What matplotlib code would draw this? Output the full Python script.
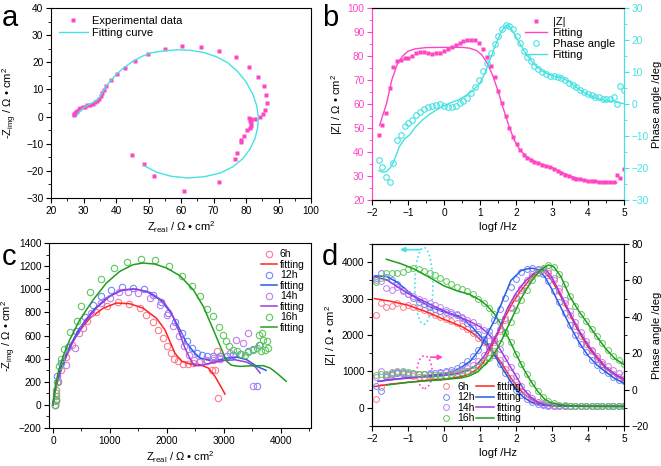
import numpy as np
import matplotlib.pyplot as plt
from matplotlib.patches import Ellipse
from matplotlib.lines import Line2D
from matplotlib.ticker import MultipleLocator

plt.rcParams['font.family'] = ['Liberation Sans', 'DejaVu Sans']
plt.rcParams['mathtext.fontset'] = 'custom'
plt.rcParams['mathtext.rm'] = 'Liberation Sans'
plt.rcParams['mathtext.it'] = 'Liberation Sans:italic'
plt.rcParams['xtick.direction'] = 'out'
plt.rcParams['ytick.direction'] = 'out'
plt.rcParams['axes.linewidth'] = 0.8

PINK = '#ff44c4'
CYAN = '#44e2e2'

# ---------------- panel a : Nyquist ----------------
a_zr = [27.0, 27.2, 27.4, 27.7, 28.0, 28.5, 29.0, 29.7, 30.4, 31.2, 32.0, 32.8, 33.5, 34.2,
        34.8, 35.3, 35.6, 36.2, 37.0, 38.5, 40.3, 42.7, 45.8, 49.8, 55.0, 60.3, 66.2, 71.8,
        76.8, 81.0, 83.6, 85.5, 86.2, 86.4, 85.9, 85.3, 84.2, 82.7, 81.6, 81.0, 81.3, 81.6,
        81.5, 81.3, 80.2, 79.5, 78.6, 78.5, 77.3, 76.5, 71.6, 60.8, 51.7, 48.5, 45.0]
a_zi = [0.5, 1.0, 1.5, 1.8, 2.2, 2.7, 3.1, 3.4, 3.7, 4.1, 4.4, 4.8, 5.2, 5.9,
        6.6, 7.5, 8.6, 9.8, 11.2, 13.3, 15.6, 18.0, 20.5, 23.0, 24.9, 25.9, 25.7, 24.2,
        21.8, 18.3, 14.7, 11.1, 7.8, 4.9, 2.5, 1.0, -0.2, -0.8, -0.8, -0.7, -1.5, -2.5,
        -3.5, -4.2, -5.1, -7.0, -8.6, -9.5, -13.4, -15.7, -24.2, -27.5, -21.8, -17.5, -14.3]
a_fit_zr = [28.0, 29, 30, 31, 32, 33, 34, 35, 36, 37, 38, 40, 42, 45, 48, 51, 55, 59, 63, 67,
            71, 74.5, 77.5, 80, 82, 83.3, 83.8, 83.6, 82.8, 81.2, 79, 76, 72, 67, 62, 57, 52.5, 48.5]
a_fit_zi = [0.5, 2.2, 3.2, 4.0, 4.6, 5.2, 6.0, 7.2, 9.3, 11.2, 12.8, 15.4, 17.6, 20.2, 22.2, 23.5,
            24.3, 24.6, 24.4, 23.6, 22.0, 19.7, 16.5, 12.8, 8.5, 4.0, 0.0, -4, -8, -12, -15.5,
            -18.5, -20.8, -22.2, -22.6, -22.0, -20.5, -18.0]

# ---------------- panel b : Bode ----------------
b_logf = [-1.81, -1.71, -1.60, -1.51, -1.42, -1.31, -1.20, -1.09, -0.99, -0.88, -0.77, -0.66,
          -0.56, -0.44, -0.33, -0.23, -0.12, -0.01, 0.10, 0.21, 0.32, 0.44, 0.53, 0.64, 0.75,
          0.86, 0.97, 1.08, 1.19, 1.31, 1.41, 1.51, 1.62, 1.71, 1.81, 1.92, 2.02, 2.11, 2.21,
          2.31, 2.43, 2.51, 2.62, 2.73, 2.84, 2.94, 3.05, 3.16, 3.26, 3.36, 3.47, 3.57, 3.68,
          3.79, 3.89, 4.00, 4.10, 4.20, 4.31, 4.42, 4.51, 4.60, 4.71, 4.81, 4.90, 5.00]
b_modz = [47.2, 51.4, 56.3, 66.5, 75.6, 78.1, 78.4, 79.1, 79.1, 80.1, 81.2, 81.5,
          81.5, 81.2, 80.8, 81.2, 81.2, 81.9, 82.9, 83.6, 84.4, 85.3, 86.1, 86.5, 86.6,
          86.5, 85.3, 83.0, 79.7, 75.7, 71.1, 65.6, 60.3, 55.1, 50.2, 46.4, 43.2, 40.7, 38.8,
          37.7, 36.7, 36.0, 35.3, 34.7, 34.3, 33.6, 32.9, 32.1, 31.3, 30.6, 30.0, 29.3, 28.6,
          28.6, 28.3, 27.9, 27.8, 27.9, 27.7, 27.5, 27.3, 27.5, 27.3, 30.5, 29.2, 33.0]
b_phase = [-17.5, -19.6, -22.7, -24.3, -18.5, -11.4, -9.7, -6.8, -6.0, -5.0, -3.4, -2.4,
           -1.5, -0.8, -0.5, -0.2, 0.0, -0.5, -0.8, -0.8, -0.5, 0.3, 1.0, 2.0, 3.4,
           5.2, 7.6, 10.2, 12.8, 15.9, 18.7, 21.3, 23.4, 24.6, 24.3, 23.4, 21.3, 19.0, 16.6,
           14.7, 13.3, 12.0, 10.9, 10.1, 9.4, 8.8, 8.6, 8.4, 8.0, 7.6, 6.7, 6.0, 5.3,
           4.4, 3.9, 3.2, 2.7, 2.3, 2.3, 1.6, 1.5, 1.5, 2.1, 0.0, 5.7, 4.4]
b_fit_logf_z = [-1.79, -1.6, -1.45, -1.3, -1.15, -1.0, -0.8, -0.5, 0, 0.5, 0.7, 0.9, 1.05, 1.2,
                1.35, 1.5, 1.65, 1.8, 1.95, 2.1, 2.3, 2.5, 2.8, 3.0, 3.3, 3.6, 3.9, 4.2, 4.5, 4.8]
b_fit_z = [51.1, 60, 70, 76.5, 80, 82, 83, 83.5, 83.6, 83.6, 83.3, 82.3, 80.5, 77,
           72, 65.5, 58, 51, 45, 41, 38, 36.2, 34.5, 33.5, 31.3, 29.5, 28.3, 27.6, 27.3, 27.2]
b_fit_logf_p = [-1.81, -1.7, -1.6, -1.5, -1.42, -1.33, -1.24, -1.1, -0.96, -0.8, -0.6, -0.4,
                -0.14, 0.14, 0.4, 0.6, 0.8, 1.0, 1.15, 1.3, 1.45, 1.6, 1.72, 1.82, 1.95, 2.1,
                2.3, 2.5, 2.7, 2.9, 3.1, 3.3, 3.5, 3.77, 4.0, 4.23, 4.5, 4.7, 5.0]
b_fit_p = [-20.8, -21.3, -21.1, -20, -18.5, -16, -13.3, -11, -9.7, -7.3, -5, -3.2,
           -1.4, 0.2, 1.3, 2.6, 4.2, 6.5, 10, 14.5, 19, 22.7, 24.6, 24.2, 22, 19,
           15.3, 12.5, 10.5, 9.3, 8.6, 8.1, 6.8, 4.4, 2.9, 1.8, 1.1, 0.8, 0.1]

# ---------------- panel c : Nyquist vs time ----------------
times = ['6h', '12h', '14h', '16h']
c_circ_col = ['#ff7a8c', '#7088ff', '#c67cf0', '#5cc85c']
c_line_col = ['#ff2424', '#2a5ae6', '#9a3ce0', '#1e9e1e']

c_zr = [
    [40, 45, 60, 88, 147, 235, 340, 457, 598, 762, 950, 1144, 1337, 1525, 1642, 1748, 1848, 1935,
     2006, 2065, 2123, 2200, 2288, 2375, 2463, 2581, 2698, 2815, 2885, 2932, 2845, 2790, 2903],
    [40, 45, 70, 147, 264, 399, 557, 700, 850, 1026, 1220, 1408, 1595, 1760, 1889, 2023, 2141,
     2258, 2346, 2434, 2522, 2610, 2698, 2815, 2932, 3050, 3167, 3284, 3431, 3519, 3625, 3578],
    [40, 50, 88, 235, 381, 528, 674, 850, 997, 1161, 1320, 1496, 1701, 1877, 1994, 2112, 2217,
     2299, 2393, 2475, 2560, 2698, 2815, 2930, 3109, 3214, 3343, 3431, 3519],
    [40, 45, 50, 60, 75, 106, 147, 200, 300, 422, 498, 645, 850, 1067, 1302, 1537, 1795, 2041,
     2258, 2434, 2581, 2710, 2815, 2915, 2980, 3038, 3097, 3167, 3238, 3296, 3372, 3431, 3519,
     3578, 3636, 3625, 3666, 3695, 3754, 3783, 3724, 3648],
]
c_zi = [
    [0, 30, 100, 195, 305, 411, 521, 622, 723, 803, 858, 890, 872, 836, 780, 714, 645, 578,
     506, 449, 397, 377, 357, 357, 362, 377, 377, 391, 463, 405, 300, 300, 58],
    [0, 40, 247, 360, 500, 640, 760, 860, 940, 991, 1020, 1011, 1005, 953, 893, 795, 714,
     622, 555, 492, 449, 434, 426, 420, 420, 426, 431, 440, 463, 483, 521, 164],
    [0, 50, 204, 348, 492, 665, 795, 881, 924, 973, 973, 967, 924, 867, 780, 679, 593,
     512, 434, 391, 370, 391, 405, 400, 449, 564, 535, 622, 160],
    [0, 40, 80, 130, 200, 333, 397, 480, 630, 723, 858, 973, 1092, 1184, 1239, 1262, 1250, 1198,
     1117, 1031, 939, 829, 766, 671, 607, 549, 512, 478, 463, 443, 434, 455, 478,
     492, 521, 607, 622, 559, 550, 492, 478, 463],
]
c_fit_zr = [
    [0, 29, 117, 235, 411, 645, 880, 1114, 1349, 1584, 1818, 1965, 2053, 2141, 2258, 2405,
     2581, 2727, 2844, 2944, 3020],
    [0, 59, 147, 293, 469, 704, 938, 1173, 1408, 1642, 1877, 2053, 2200, 2346, 2463, 2581,
     2815, 3050, 3226, 3402, 3578, 3742],
    [0, 59, 176, 323, 528, 762, 997, 1232, 1466, 1701, 1935, 2082, 2200, 2317, 2405, 2480,
     2600, 2800, 3000, 3200, 3400, 3550, 3636],
    [0, 29, 88, 176, 293, 469, 704, 938, 1173, 1408, 1584, 1789, 1994, 2229, 2463, 2639, 2815,
     2962, 3050, 3138, 3284, 3519, 3695, 3812, 3930, 4094],
]
c_fit_zi = [
    [0, 101, 274, 432, 605, 749, 836, 881, 875, 836, 749, 650, 549, 447, 377, 354,
     348, 319, 247, 161, 94],
    [0, 189, 333, 506, 665, 818, 924, 988, 1002, 982, 910, 809, 679, 535, 463, 405,
     377, 405, 414, 391, 333, 299],
    [0, 173, 348, 521, 694, 838, 939, 996, 1002, 973, 896, 795, 650, 492, 400, 340,
     340, 365, 385, 390, 370, 330, 276],
    [0, 130, 274, 418, 562, 735, 908, 1054, 1155, 1213, 1227, 1218, 1184, 1117, 996, 852, 650,
     478, 377, 342, 333, 339, 339, 319, 275, 204],
]

# ---------------- panel d : Bode vs time ----------------
d_logf = [-1.9, -1.75, -1.6, -1.45, -1.3, -1.15, -1.0, -0.85, -0.7, -0.55, -0.4, -0.25, -0.1,
          0.05, 0.2, 0.35, 0.5, 0.65, 0.8, 0.95, 1.1, 1.25, 1.4, 1.55, 1.7, 1.85, 2.0, 2.15,
          2.3, 2.45, 2.6, 2.75, 2.9, 3.05, 3.2, 3.35, 3.5, 3.65, 3.8, 3.95, 4.1, 4.25, 4.4,
          4.55, 4.7, 4.85, 5.0]
d_modz = [
    [2560, 2870, 2780, 2800, 2890, 2760, 2830, 2780, 2730, 2680, 2620, 2560, 2500,
     2440, 2380, 2320, 2250, 2160, 2060, 1930, 1800, 1660, 1500, 1310, 1070, 820, 620, 450,
     320, 220, 150, 105, 80, 65, 55, 50, 45, 45, 45, 45, 45, 45, 45,
     45, 45, 45, 45],
    [3560, 3700, 3600, 3500, 3400, 3250, 3130, 3020, 2920, 2840, 2780, 2720, 2670,
     2620, 2590, 2550, 2470, 2340, 2200, 2040, 1880, 1700, 1450, 1200, 960, 720, 500, 340,
     230, 150, 100, 70, 55, 45, 40, 40, 40, 40, 40, 40, 40, 40, 40,
     40, 40, 40, 40],
    [3520, 3480, 3300, 3250, 3310, 3200, 3130, 3060, 3000, 2940, 2880, 2820, 2760,
     2700, 2640, 2570, 2500, 2420, 2350, 2260, 2150, 2010, 1850, 1620, 1370, 1110, 870, 610,
     410, 260, 165, 110, 80, 62, 52, 47, 45, 45, 45, 45, 45, 45, 45,
     45, 45, 45, 45],
    [3450, 3560, 3700, 3700, 3690, 3720, 3820, 3830, 3800, 3760, 3700, 3640, 3560,
     3480, 3400, 3320, 3260, 3200, 3130, 3000, 2890, 2750, 2580, 2350, 2090, 1800, 1480, 1190,
     920, 670, 460, 290, 185, 125, 90, 70, 58, 52, 48, 48, 48, 48, 48,
     48, 48, 48, 48],
]
d_phase = [
    [-5, 1.5, 7.5, 8, 9, 8.5, 8, 7.5, 7.2, 7, 7, 7, 7.2,
     7.4, 7.8, 8.3, 9, 10, 11.5, 13.5, 16.5, 20.5, 26, 32, 38.5, 45, 50.5, 55,
     59, 62.5, 64.8, 65.5, 64, 60, 54, 47.5, 41, 35, 29.5, 25, 21, 17.2, 13.8,
     11, 8.8, 7.2, 6],
    [2, -0.5, 7, 8.5, 9, 9, 8.5, 8.5, 8.5, 8.7, 9, 9.3, 9.7,
     10.3, 11, 12, 13.5, 15.5, 18.5, 22, 27, 32, 38, 44.5, 50.5, 56.5, 61, 64.5,
     66.2, 66.7, 66, 63.5, 59.5, 54, 48, 42, 35.5, 30, 25, 20.5, 16.5, 13.5, 11,
     9, 7, 5.5, 4.5],
    [7, 10, 8, 9.5, 10, 9.5, 9, 8.8, 8.8, 8.8, 8.8, 9, 9.2,
     9.5, 9.8, 10.3, 11, 12, 13.5, 15.8, 19, 23, 28, 33.5, 39.5, 45.5, 51, 56,
     60, 63.3, 65.5, 66.2, 65, 61.5, 56, 49.5, 43, 37, 31.5, 26.5, 22, 18.5, 15.3,
     12.8, 10.8, 9.2, 8],
    [8, 8.5, 8.5, 9, 9.5, 10, 9.5, 9, 8.8, 8.5, 8.3, 8.2, 8.2,
     8.3, 8.5, 9, 9.5, 10.3, 11.5, 13, 15, 17.5, 21, 25.5, 31, 37, 43.5, 49.5,
     55, 60, 64, 67, 68.5, 67.5, 63.5, 58, 51.5, 46, 41.5, 37.5, 33.5, 29.5, 25.5,
     21.5, 18.5, 16, 14],
]
d_fit_logf_z = [
    [-1.93, -1.5, -1.0, -0.5, 0, 0.5, 0.8, 1.0, 1.2, 1.4, 1.6, 1.8, 2.0, 2.2, 2.4, 2.6, 2.8,
     3.0, 3.4, 4.0, 5.0],
    [-1.93, -1.6, -1.3, -1.0, -0.7, -0.4, 0, 0.4, 0.6, 0.8, 1.0, 1.2, 1.4, 1.6, 1.8, 2.0, 2.2,
     2.4, 2.6, 2.8, 3.1, 5.0],
    [-1.93, -1.6, -1.3, -1.0, -0.6, -0.2, 0.2, 0.66, 1.0, 1.2, 1.4, 1.6, 1.8, 2.0, 2.2, 2.4,
     2.6, 2.8, 3.1, 3.5, 5.0],
    [-1.6, -1.2, -0.8, -0.4, 0, 0.4, 0.7, 1.0, 1.2, 1.4, 1.6, 1.8, 2.0, 2.2, 2.4, 2.6, 2.8,
     3.0, 3.2, 3.5, 4.0, 5.0],
]
d_fit_z = [
    [3000, 2930, 2820, 2640, 2430, 2230, 2050, 1880, 1700, 1490, 1230, 900, 630, 400, 250, 140,
     85, 60, 45, 40, 40],
    [3620, 3610, 3450, 3200, 2950, 2780, 2630, 2530, 2380, 2200, 1980, 1770, 1450, 1120, 800,
     500, 300, 170, 100, 65, 45, 35],
    [3600, 3520, 3330, 3140, 2950, 2750, 2580, 2400, 2230, 2060, 1850, 1540, 1200, 870, 530,
     300, 160, 90, 55, 42, 40],
    [4080, 3960, 3800, 3580, 3350, 3200, 3120, 2960, 2800, 2580, 2270, 1900, 1480, 1090, 750,
     460, 230, 130, 85, 55, 42, 40],
]
d_fit_logf_p = [
    [-1.93, -1.5, -1.0, -0.5, 0, 0.4, 0.7, 0.9, 1.1, 1.3, 1.5, 1.7, 1.9, 2.1, 2.3, 2.5, 2.66,
     2.8, 3.0, 3.25, 3.5, 3.75, 4.0, 4.25, 4.5, 4.75, 5.0],
    [-1.83, -1.5, -1.0, -0.5, 0, 0.3, 0.5, 0.75, 1.0, 1.2, 1.4, 1.6, 1.86, 2.14, 2.35, 2.45,
     2.6, 2.8, 3.0, 3.25, 3.5, 3.75, 4.0, 4.25, 4.5, 4.75, 5.0],
    [-1.83, -1.5, -1.0, -0.5, 0, 0.4, 0.7, 0.9, 1.1, 1.3, 1.5, 1.77, 2.0, 2.25, 2.5, 2.7,
     2.85, 3.0, 3.25, 3.5, 3.75, 4.0, 4.25, 4.5, 4.75, 5.0],
    [-1.6, -1.0, -0.5, 0, 0.5, 0.7, 0.94, 1.1, 1.25, 1.4, 1.6, 1.77, 2.0, 2.14, 2.3, 2.51,
     2.7, 2.9, 3.05, 3.25, 3.5, 3.75, 4.0, 4.25, 4.5, 4.75, 5.0],
]
d_fit_p = [
    [1.7, 3, 4, 5, 5.8, 6.8, 8.5, 11, 15, 23, 31, 40, 47.5, 53.5, 58.5, 63.4, 65.6,
     64.8, 60, 51, 41, 31.5, 23.5, 17, 11.5, 8, 5],
    [4.5, 5.5, 6.5, 7.5, 8.8, 10.5, 12.5, 16, 22.5, 30.5, 38, 47.5, 60, 65.4, 66.5, 66.7,
     66, 62, 55, 45, 35, 26, 18.7, 13.5, 9.6, 6, 3.5],
    [4.5, 5.3, 6.3, 7, 7.8, 9, 11, 13.5, 18, 24.5, 32, 45, 53, 59.5, 63.8, 66,
     65.5, 61.6, 52, 42, 32.5, 24.5, 18, 12.3, 8.5, 5.9],
    [2.5, 4, 4.8, 5.5, 6.5, 7.5, 9.8, 13, 16, 19.8, 27, 34.4, 44, 50, 55.5, 61.8,
     66, 68.5, 67.5, 62, 51, 43, 36, 29, 22.3, 17, 13.8],
]


def style_ticks(ax):
    ax.tick_params(which='major', length=3.5, width=0.8, labelsize=7.3, pad=2)
    ax.tick_params(which='minor', length=2, width=0.6)


fig = plt.figure(figsize=(6.61, 4.66), dpi=100)

# ---- a ----
ax = fig.add_axes([0.0772, 0.5751, 0.3933, 0.4077])
ax.plot(a_zr, a_zi, 's', color=PINK, ms=3.3, mec='none', label='Experimental data')
ax.plot(a_fit_zr, a_fit_zi, '-', color=CYAN, lw=1.0, label='Fitting curve')
ax.set_xlim(20, 100)
ax.set_ylim(-30, 40)
ax.xaxis.set_major_locator(MultipleLocator(10))
ax.xaxis.set_minor_locator(MultipleLocator(5))
ax.yaxis.set_major_locator(MultipleLocator(10))
ax.yaxis.set_minor_locator(MultipleLocator(5))
style_ticks(ax)
ax.set_xlabel('Z$_{\\mathrm{real}}$ / Ω • cm$^{2}$', fontsize=8, labelpad=3)
ax.set_ylabel('-Z$_{\\mathrm{img}}$ / Ω • cm$^{2}$', fontsize=8)
ax.yaxis.set_label_coords(-0.125, 0.5)
ax.legend(loc='upper left', fontsize=8, frameon=False, handlelength=2.6,
          borderaxespad=0.3, labelspacing=0.2, handletextpad=0.4)

# ---- b ----
ax = fig.add_axes([0.5628, 0.5708, 0.3812, 0.412])
ax2 = ax.twinx()
h1, = ax.plot(b_logf, b_modz, 's', color=PINK, ms=3, mec='none')
h2, = ax.plot(b_fit_logf_z, b_fit_z, '-', color=PINK, lw=1.0)
h3, = ax2.plot(b_logf, b_phase, 'o', mfc='none', mec=CYAN, ms=4, mew=0.8)
h4, = ax2.plot(b_fit_logf_p, b_fit_p, '-', color=CYAN, lw=1.0)
ax.set_xlim(-2, 5)
ax.set_ylim(20, 100)
ax2.set_ylim(-30, 30)
ax.xaxis.set_major_locator(MultipleLocator(1))
ax.xaxis.set_minor_locator(MultipleLocator(0.5))
ax.yaxis.set_major_locator(MultipleLocator(10))
ax.yaxis.set_minor_locator(MultipleLocator(5))
ax2.yaxis.set_major_locator(MultipleLocator(10))
ax2.yaxis.set_minor_locator(MultipleLocator(5))
style_ticks(ax)
style_ticks(ax2)
ax.tick_params(axis='y', which='both', colors=PINK)
ax2.tick_params(axis='y', which='both', colors=CYAN)
ax.spines['left'].set_color(PINK)
ax2.spines['left'].set_color(PINK)
ax2.spines['right'].set_color(CYAN)
ax.spines['right'].set_color(CYAN)
ax.set_xlabel('logf /Hz', fontsize=8, labelpad=3)
ax.set_ylabel('|Z| / Ω • cm$^{2}$', fontsize=8, labelpad=2)
ax2.set_ylabel('Phase angle /deg', fontsize=8, labelpad=2)
ax2.legend([h1, h2, h3, h4], ['|Z|', 'Fitting', 'Phase angle', 'Fitting'],
           loc='upper right', bbox_to_anchor=(0.99, 0.99), fontsize=8, frameon=False,
           handlelength=2.0, labelspacing=0.1, handletextpad=0.5, borderaxespad=0.2)

# ---- c ----
ax = fig.add_axes([0.0741, 0.0815, 0.3964, 0.397])
handles = []
for i, t in enumerate(times):
    hc, = ax.plot(c_zr[i], c_zi[i], 'o', mfc='none', mec=c_circ_col[i], ms=4.6, mew=0.8)
    hl, = ax.plot(c_fit_zr[i], c_fit_zi[i], '-', color=c_line_col[i], lw=1.1)
    handles += [hc, hl]
labels = []
for t in times:
    labels += [t, 'fitting']
ax.set_xlim(-70, 4530)
ax.set_ylim(-200, 1400)
ax.xaxis.set_major_locator(MultipleLocator(1000))
ax.xaxis.set_minor_locator(MultipleLocator(500))
ax.yaxis.set_major_locator(MultipleLocator(200))
ax.yaxis.set_minor_locator(MultipleLocator(100))
style_ticks(ax)
ax.set_xlabel('Z$_{\\mathrm{real}}$ / Ω • cm$^{2}$', fontsize=8, labelpad=3)
ax.set_ylabel('-Z$_{\\mathrm{img}}$ / Ω • cm$^{2}$', fontsize=8)
ax.yaxis.set_label_coords(-0.118, 0.5)
ax.legend(handles, labels, loc='upper right', bbox_to_anchor=(1.0, 1.0), fontsize=7.5,
          frameon=False, handlelength=1.5, labelspacing=0.05, handletextpad=0.3,
          borderaxespad=0.2)

# ---- d ----
ax = fig.add_axes([0.5628, 0.0858, 0.3812, 0.3906])
ax2 = ax.twinx()
circ_h = []
line_h = []
for i, t in enumerate(times):
    hc, = ax.plot(d_logf, d_modz[i], 'o', mfc='none', mec=c_circ_col[i], ms=4.2, mew=0.7)
    ax.plot(d_fit_logf_z[i], d_fit_z[i], '-', color=c_line_col[i], lw=1.1)
    ax2.plot(d_logf, d_phase[i], 'o', mfc='none', mec=c_circ_col[i], ms=4.2, mew=0.7)
    hl, = ax2.plot(d_fit_logf_p[i], d_fit_p[i], '-', color=c_line_col[i], lw=1.1)
    circ_h.append(hc)
    line_h.append(hl)
ax.set_xlim(-2, 5)
ax.set_ylim(-500, 4500)
ax2.set_ylim(-20, 80)
ax.xaxis.set_major_locator(MultipleLocator(1))
ax.xaxis.set_minor_locator(MultipleLocator(0.5))
ax.yaxis.set_major_locator(MultipleLocator(1000))
ax.yaxis.set_minor_locator(MultipleLocator(500))
ax2.yaxis.set_major_locator(MultipleLocator(20))
ax2.yaxis.set_minor_locator(MultipleLocator(10))
style_ticks(ax)
style_ticks(ax2)
ax.set_xlabel('logf /Hz', fontsize=8, labelpad=3)
ax.set_ylabel('|Z| / Ω • cm$^{2}$', fontsize=8, labelpad=2)
ax2.set_ylabel('Phase angle /deg', fontsize=8, labelpad=2)

# dotted ellipses with arrows pointing to the relevant axis
ax.add_patch(Ellipse((-0.56, 3350), 0.5, 2110, fill=False, ec=CYAN, ls=':', lw=1.2))
ax.annotate('', xy=(-1.3, 4345), xytext=(-0.58, 4345),
            arrowprops=dict(arrowstyle='-|>', color=CYAN, lw=1.2, mutation_scale=7))
ax2.add_patch(Ellipse((-0.54, 9.6), 0.42, 18, fill=False, ec=PINK, ls=':', lw=1.2))
ax2.annotate('', xy=(0.05, 17.8), xytext=(-0.45, 17.8),
             arrowprops=dict(arrowstyle='-|>', color=PINK, lw=1.2, mutation_scale=7))

ax2.legend(circ_h + line_h, times + ['fitting'] * 4, ncol=2, loc='lower left',
           bbox_to_anchor=(0.23, -0.02), fontsize=7.5, frameon=False, handlelength=1.8,
           labelspacing=0.05, handletextpad=0.2, columnspacing=0.1, borderaxespad=0.2)

# panel letters
for lbl, x, y in [('a', 0.002, 0.945), ('b', 0.487, 0.945), ('c', 0.002, 0.432), ('d', 0.487, 0.432)]:
    fig.text(x, y, lbl, fontsize=21, ha='left', va='baseline')

fig.savefig('out.png', dpi=100)
